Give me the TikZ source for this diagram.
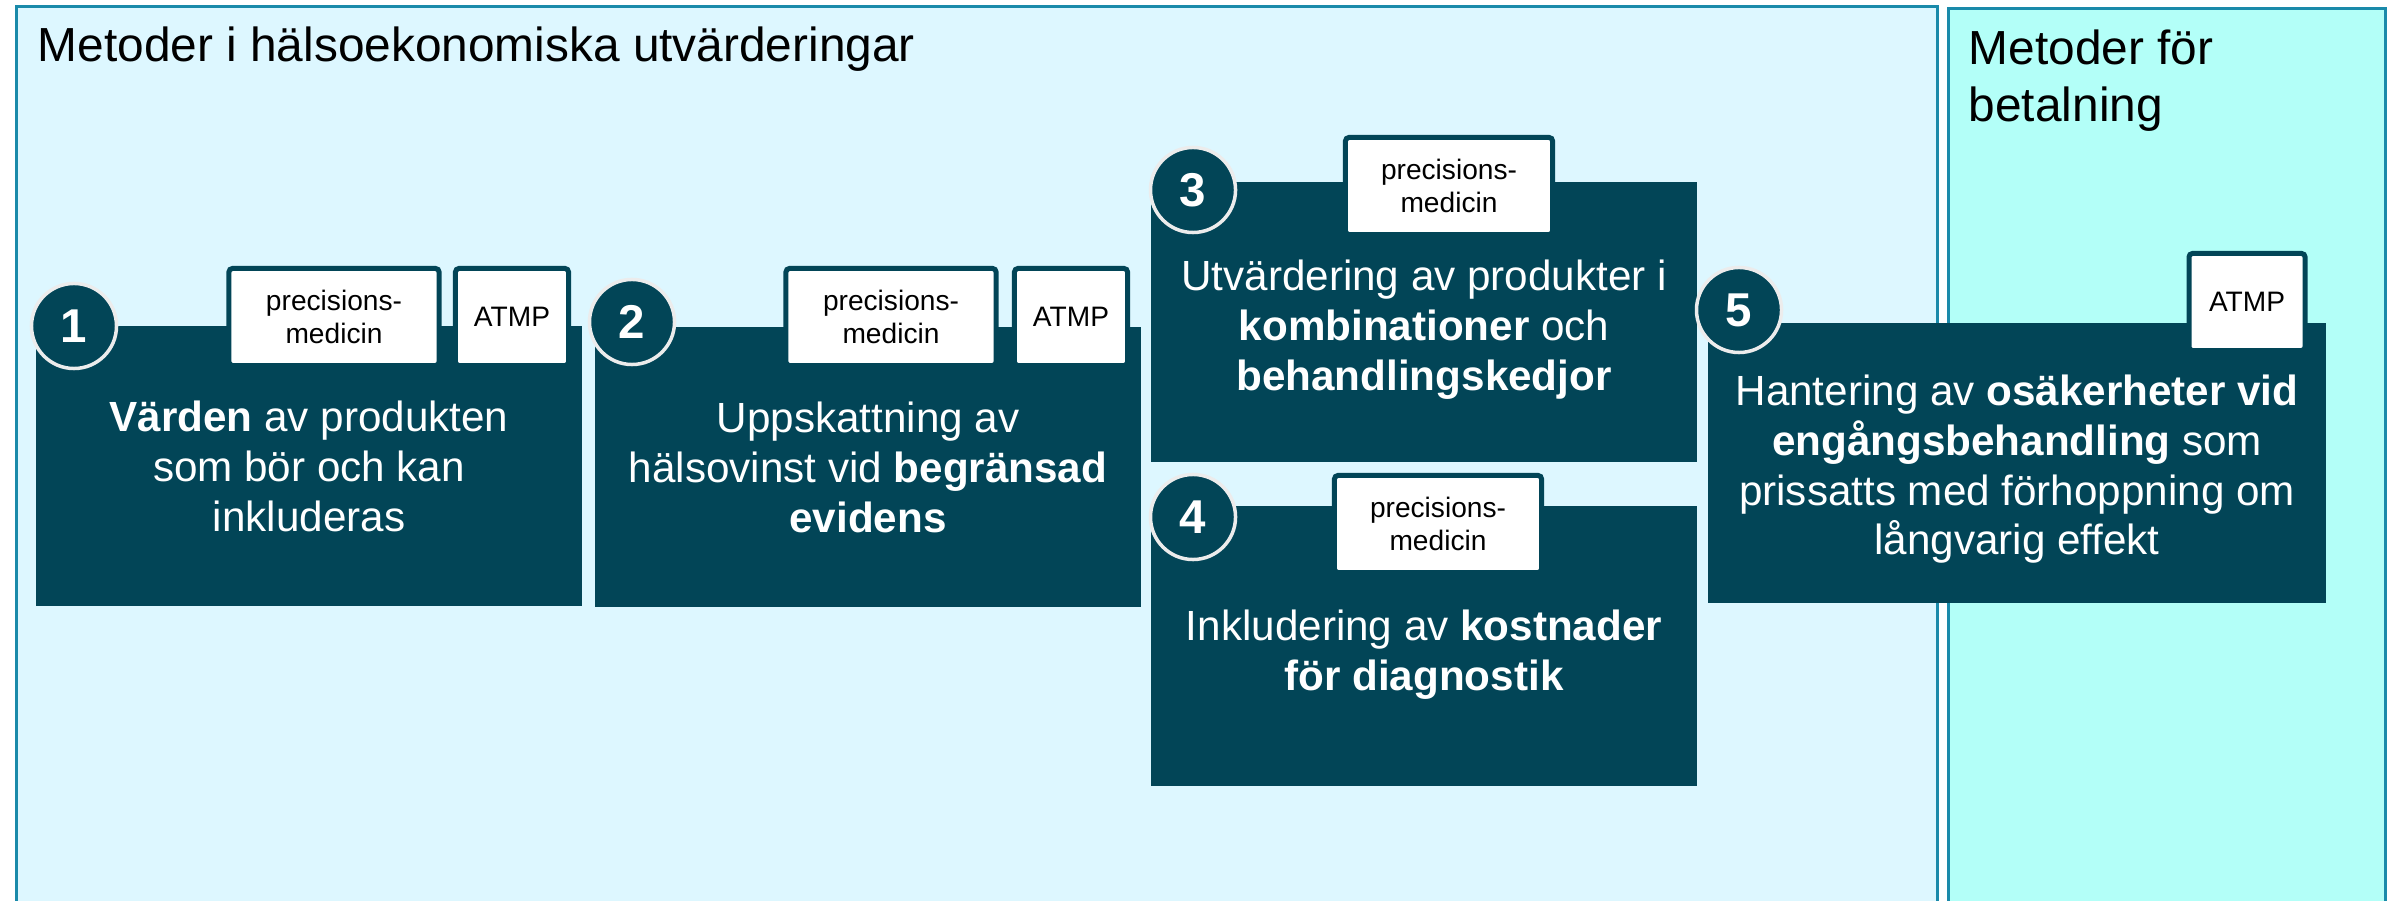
\documentclass[tikz,border=0pt]{standalone}
\usepackage{fontspec}
\setmainfont{Liberation Sans}
\usetikzlibrary{positioning}
\definecolor{petrol}{HTML}{024557}
\definecolor{frame}{HTML}{1A8AAA}
\definecolor{paleblue}{HTML}{DDF7FF}
\definecolor{paleaqua}{HTML}{B3FFF8}
\definecolor{ring}{HTML}{ECECEC}
\newcommand{\lift}[1]{\rule{0pt}{#1}}

\begin{document}
\begin{tikzpicture}[
  x=0.01cm, y=-0.01cm,
  panel/.style={draw=frame, line width=0.03cm, anchor=north west, inner sep=0pt},
  heading/.style={anchor=north west, inner sep=0pt, align=left,
                  font=\fontsize{13.6}{16.3}\selectfont},
  field/.style={fill=petrol, text=white, inner sep=0pt, align=center,
                minimum width=5.45cm, minimum height=2.8cm,
                font=\fontsize{12}{14.2}\selectfont},
  tag/.style={draw=petrol, fill=white, line width=0.05cm, rounded corners=1pt,
              inner sep=0pt, align=center, minimum height=0.97cm,
              font=\fontsize{8}{9.5}\selectfont},
  num/.style={circle, draw=ring, fill=petrol, line width=0.035cm,
              minimum size=0.85cm, inner sep=0pt, text=white,
              font=\fontsize{13.5}{16}\selectfont\bfseries}
]
  \useasboundingbox (0,0) rectangle (2392,901);

  % background panels
  \node[panel, fill=paleblue, minimum width=19.2cm, minimum height=9.3cm] (econ) at (15,5) {};
  \node[panel, fill=paleaqua, minimum width=4.37cm, minimum height=9.3cm] (pay) at (1947,7) {};
  \node[heading] (econtitle) at (37,26) {Metoder i hälsoekonomiska utvärderingar};
  \node[heading] (paytitle) at (1968,29) {Metoder för\\betalning};

  % method boxes
  \node[field] (v1) at (309,466) {\textbf{Värden} av produkten\\som bör och kan\\inkluderas};
  \node[field] (v2) at (868,467) {Uppskattning av\\hälsovinst vid \textbf{begränsad}\\\textbf{evidens}};
  \node[field] (v3) at (1424,322) {\lift{13.3pt}Utvärdering av produkter i\\\textbf{kombinationer} och\\\textbf{behandlingskedjor}};
  \node[field] (v4) at (1424,646) {\lift{13.9pt}Inkludering av \textbf{kostnader}\\\textbf{för diagnostik}};
  \node[field, minimum width=6.17cm] (v5) at (2017,463) {\lift{12.2pt}Hantering av \textbf{osäkerheter vid}\\\textbf{engångsbehandling} som\\prissatts med förhoppning om\\långvarig effekt};

  % tags on top of the boxes
  \node[tag, minimum width=2.10cm] (v1pm) at (334,317) {precisions-\\medicin};
  \node[tag, minimum width=1.13cm] (v1at) at (512,317) {ATMP};
  \node[tag, minimum width=2.10cm] (v2pm) at (891,317) {precisions-\\medicin};
  \node[tag, minimum width=1.13cm] (v2at) at (1071,317) {ATMP};
  \node[tag, minimum width=2.07cm] (v3pm) at (1449,186) {precisions-\\medicin};
  \node[tag, minimum width=2.07cm] (v4pm) at (1438,524) {precisions-\\medicin};
  \node[tag, minimum width=1.16cm] (v5at) at (2247,302) {ATMP};

  % numbers
  \node[num] (n1) at (74,326) {1};
  \node[num] (n2) at (632,322) {2};
  \node[num] (n3) at (1193,190) {3};
  \node[num] (n4) at (1193,517) {4};
  \node[num] (n5) at (1739,310) {5};
\end{tikzpicture}
\end{document}
